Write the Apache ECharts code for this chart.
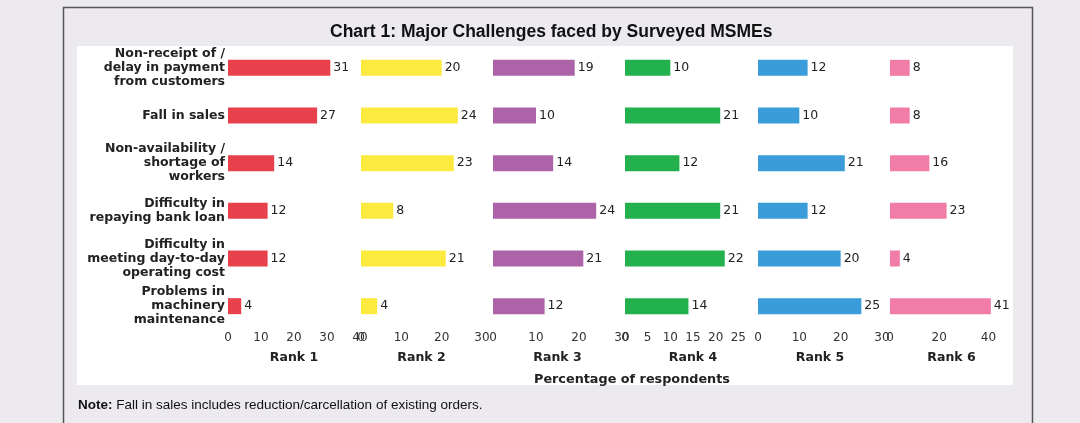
<!DOCTYPE html>
<html><head><meta charset="utf-8">
<script src="https://cdn.jsdelivr.net/npm/echarts@6/dist/echarts.min.js"></script>
<style>html,body{margin:0;padding:0;background:#ece9ef;}#c{width:1080px;height:423px;}</style>
</head><body><div id="c"></div>
<script>
const categories = [
  "Non-receipt of /\ndelay in payment\nfrom customers",
  "Fall in sales",
  "Non-availability /\nshortage of\nworkers",
  "Difficulty in\nrepaying bank loan",
  "Difficulty in\nmeeting day-to-day\noperating cost",
  "Problems in\nmachinery\nmaintenance"
];
const rankNames = ["Rank 1","Rank 2","Rank 3","Rank 4","Rank 5","Rank 6"];
const rank1 = [31,27,14,12,12,4];
const rank2 = [20,24,23,8,21,4];
const rank3 = [19,10,14,24,21,12];
const rank4 = [10,21,12,21,22,14];
const rank5 = [12,10,21,12,20,25];
const rank6 = [8,8,16,23,4,41];
const axisMax = [40,30,30,30,30,50];
const axisInterval = [10,10,10,5,10,20];
const showMax = [true,true,true,false,true,false];
const titleText = "Chart 1: Major Challenges faced by Surveyed MSMEs";
const axisTitle = "Percentage of respondents";
const noteLabel = "Note:";
const noteText = " Fall in sales includes reduction/carcellation of existing orders.";

const seriesData = [rank1,rank2,rank3,rank4,rank5,rank6];
const colors = ["#e8414c","#fcea3e","#ad63a8","#22b14c","#3a9dd9","#f07ca7"];
const gridLeft = [228,361,493,625,758,890];
const gridWidth = [132,121,129,136,124,123];
const FONT = "DejaVu Sans";

const chart = echarts.init(document.getElementById('c'));
const grids=[],xAxes=[],yAxes=[],series=[];
for(let i=0;i<6;i++){
  grids.push({left:gridLeft[i],width:gridWidth[i],top:44,height:286,containLabel:false});
  xAxes.push({type:'value',gridIndex:i,min:0,max:axisMax[i],interval:axisInterval[i],
    name:rankNames[i],nameLocation:'middle',nameGap:21,
    nameTextStyle:{fontFamily:FONT,fontSize:12.5,fontWeight:'bold',color:'#222'},
    axisLine:{show:false},axisTick:{show:false},splitLine:{show:false},
    axisLabel:{fontFamily:FONT,fontSize:12,color:'#333',margin:2,showMaxLabel:showMax[i]}});
  yAxes.push({type:'category',gridIndex:i,data:categories,inverse:true,
    axisLine:{show:false},axisTick:{show:false},splitLine:{show:false},
    axisLabel:{show:i===0,fontFamily:FONT,fontSize:12.5,fontWeight:'bold',color:'#222',
      margin:3,lineHeight:14,align:'right'}});
  series.push({type:'bar',xAxisIndex:i,yAxisIndex:i,data:seriesData[i],barWidth:16,
    itemStyle:{color:colors[i]},
    label:{show:true,position:'right',distance:3,fontFamily:FONT,fontSize:12.5,color:'#222'}});
}
chart.setOption({
  backgroundColor:'#ece9ef',
  animation:false,
  title:{text:titleText,left:325,top:18,
    textStyle:{fontFamily:'Liberation Sans',fontSize:17.5,fontWeight:'bold',color:'#111'}},
  graphic:[
    {type:'polyline',z:-10,shape:{points:[[63.5,430],[63.5,7.5],[1032.5,7.5],[1032.5,430]]},
      style:{stroke:'#555',lineWidth:1.5,fill:null}},
    {type:'rect',z:-10,shape:{x:77,y:46,width:936,height:339},style:{fill:'#ffffff'}},
    {type:'text',left:534,top:373,style:{text:axisTitle,font:'bold 12.8px "DejaVu Sans"',fill:'#222'}},
    {type:'text',left:78,top:398,style:{text:'{b|'+noteLabel+'}{n|'+noteText+'}',
      rich:{b:{fontFamily:'Liberation Sans',fontSize:13.5,fontWeight:'bold',fill:'#111'},
            n:{fontFamily:'Liberation Sans',fontSize:13.5,fill:'#111'}}}}
  ],
  grid:grids,xAxis:xAxes,yAxis:yAxes,series:series
});
</script></body></html>
